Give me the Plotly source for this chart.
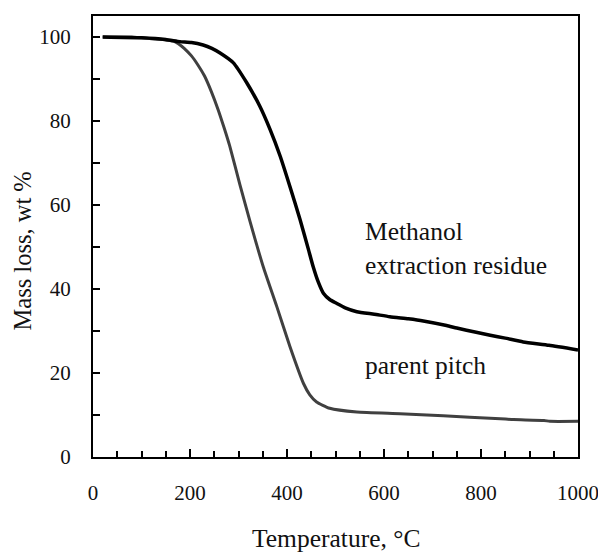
import plotly.graph_objects as go

# Methanol extraction residue (black)
residue_T = [20, 100, 150, 179, 203, 227, 245, 262, 289, 317, 344, 365, 386, 406, 427, 444, 454, 465, 475, 488, 502, 520, 544, 580, 612, 650, 681, 729, 750, 790, 819, 850, 887, 940, 1000]
residue_W = [100, 99.8, 99.4, 98.9, 98.7, 98.1, 97.3, 96.2, 93.9, 89.1, 83.5, 78.0, 71.6, 64.4, 56.5, 49.5, 45.3, 41.5, 39.0, 37.5, 36.6, 35.5, 34.6, 34.0, 33.4, 32.9, 32.4, 31.3, 30.7, 29.7, 29.0, 28.3, 27.4, 26.6, 25.5]

# Parent pitch (dark gray)
pitch_T = [20, 80, 120, 150, 166, 176, 188, 203, 216, 230, 244, 258, 270, 282, 303, 324, 351, 379, 406, 434, 447, 461, 488, 544, 633, 722, 777, 840, 867, 930, 942, 1000]
pitch_W = [100, 100, 99.6, 99.3, 99.0, 98.4, 97.3, 95.5, 93.4, 90.7, 87.0, 82.7, 78.5, 74.0, 64.8, 56.0, 45.3, 35.8, 26.3, 17.5, 14.8, 13.1, 11.6, 10.7, 10.3, 9.8, 9.45, 9.1, 8.9, 8.7, 8.5, 8.5]

x_ticks = [0, 200, 400, 600, 800, 1000]
y_ticks = [0, 20, 40, 60, 80, 100]
y_minor = [10, 30, 50, 70, 90]

labels = ["Methanol", "extraction residue", "parent pitch"]
label_x = [557, 557, 557]
label_y = [53.6, 45.7, 21.9]

x_title = "Temperature, °C"
y_title = "Mass loss, wt %"

FONT = "Liberation Serif"
TXT = "#111111"

fig = go.Figure()
fig.add_trace(go.Scatter(x=pitch_T, y=pitch_W, mode="lines",
                         line=dict(color="#404040", width=3, shape="spline", smoothing=0.5),
                         showlegend=False))
fig.add_trace(go.Scatter(x=residue_T, y=residue_W, mode="lines",
                         line=dict(color="#000000", width=3.5, shape="spline", smoothing=0.5),
                         showlegend=False))

for t, lx, ly in zip(labels, label_x, label_y):
    fig.add_annotation(x=lx, y=ly, xref="x", yref="y", text=t,
                       showarrow=False, xanchor="left", yanchor="middle",
                       font=dict(family=FONT, size=25.5, color=TXT))

# axis titles
fig.add_annotation(x=0.5, y=0, xref="paper", yref="paper", text=x_title,
                   showarrow=False, xanchor="center", yanchor="middle", yshift=-81,
                   font=dict(family=FONT, size=25.5, color=TXT))
fig.add_annotation(x=0, y=0.5, xref="paper", yref="paper", text=y_title, textangle=-90,
                   showarrow=False, xanchor="center", yanchor="middle", xshift=-71, yshift=-15,
                   borderpad=0, font=dict(family=FONT, size=24.5, color=TXT))

fig.update_layout(
    width=598, height=544,
    margin=dict(l=85, r=28, t=8, b=95),
    paper_bgcolor="white", plot_bgcolor="white",
    font=dict(family=FONT, size=21, color=TXT),
)
fig.update_xaxes(
    range=[0, 1000], tickvals=x_ticks,
    ticks="inside", ticklen=8, tickwidth=2, tickcolor="black",
    minor=dict(dtick=50, ticks="inside", ticklen=6, tickwidth=2, tickcolor="black"),
    showline=True, linecolor="black", linewidth=2, mirror=True,
    showgrid=False, zeroline=False, ticklabelstandoff=16, ticklabeloverflow="allow",
    tickfont=dict(family=FONT, size=21, color=TXT),
    automargin=False,
)
fig.update_yaxes(
    range=[0, 105], tickvals=y_ticks,
    ticks="inside", ticklen=7, tickwidth=2, tickcolor="black",
    minor=dict(tickvals=y_minor, ticks="inside", ticklen=7, tickwidth=2, tickcolor="black"),
    showline=True, linecolor="black", linewidth=2, mirror=True,
    showgrid=False, zeroline=False, ticklabelstandoff=16,
    tickfont=dict(family=FONT, size=21, color=TXT),
    automargin=False,
)

fig.write_html("out.html")
